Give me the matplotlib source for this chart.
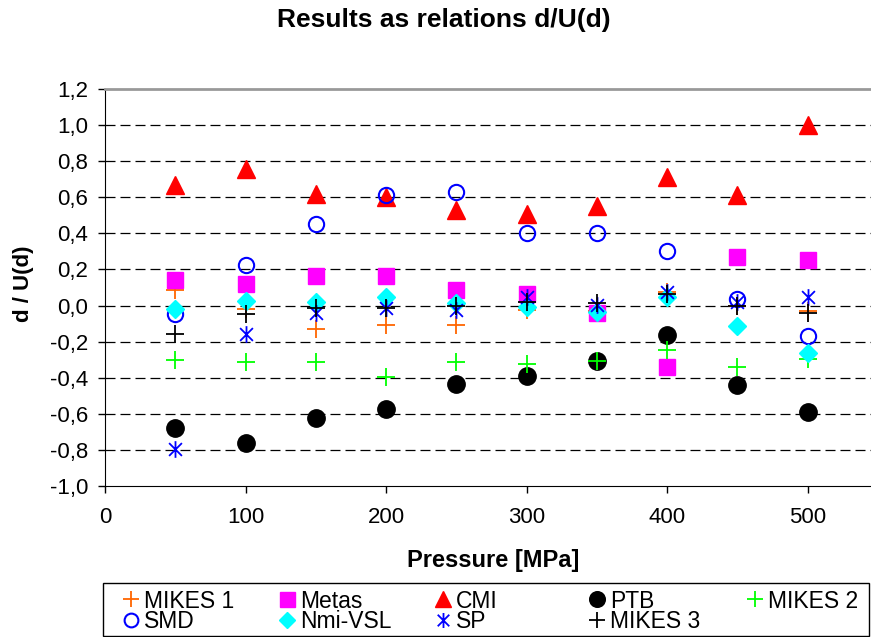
import numpy as np
import matplotlib
matplotlib.use("Agg")
from matplotlib import pyplot as plt
from matplotlib.path import Path
from matplotlib.patches import Rectangle
from matplotlib.ticker import FuncFormatter

plt.rcParams['font.family'] = ['Liberation Sans', 'DejaVu Sans']

pressure = [50, 100, 150, 200, 250, 300, 350, 400, 450, 500]

mikes1 = [0.085, -0.02, -0.13, -0.11, -0.11, -0.025, -0.03, 0.075, 0.0, -0.03]
metas = [0.14, 0.12, 0.165, 0.165, 0.085, 0.065, -0.04, -0.34, 0.27, 0.25]
cmi = [0.67, 0.755, 0.62, 0.60, 0.53, 0.51, 0.55, 0.71, 0.61, 1.00]
ptb = [-0.68, -0.76, -0.625, -0.575, -0.435, -0.39, -0.305, -0.165, -0.44, -0.59]
mikes2 = [-0.30, -0.315, -0.315, -0.395, -0.315, -0.325, -0.305, -0.245, -0.34, -0.295]
smd = [-0.045, 0.225, 0.45, 0.61, 0.63, 0.40, 0.40, 0.30, 0.035, -0.17]
nmi_vsl = [-0.02, 0.025, 0.02, 0.045, 0.015, -0.01, -0.035, 0.05, -0.115, -0.265]
sp = [-0.795, -0.16, -0.04, -0.015, -0.025, 0.05, 0.005, 0.075, 0.02, 0.045]
mikes3 = [-0.16, -0.045, -0.015, -0.015, -0.005, 0.02, 0.015, 0.065, -0.005, -0.04]

# excel style asterisk: an x plus a vertical bar
star = Path([(-1, -1), (1, 1), (-1, 1), (1, -1), (0, -1.3), (0, 1.3)],
            [Path.MOVETO, Path.LINETO, Path.MOVETO, Path.LINETO, Path.MOVETO, Path.LINETO])

fig = plt.figure(figsize=(8.71, 6.37), dpi=100)
ax = fig.add_axes([0.1206, 0.237, 0.8794, 0.6233])

h = {}
h['MIKES 1'], = ax.plot(pressure, mikes1, ls='none', marker='+', ms=13, mew=1.3, color='#ff6600')
h['Metas'], = ax.plot(pressure, metas, ls='none', marker='s', ms=12, color='#ff00ff')
h['CMI'], = ax.plot(pressure, cmi, ls='none', marker='^', ms=13, color='#ff0000')
h['PTB'], = ax.plot(pressure, ptb, ls='none', marker='o', ms=12.5, color='black')
h['MIKES 2'], = ax.plot(pressure, mikes2, ls='none', marker='+', ms=13, mew=1.3, color='#00ff00')
h['SMD'], = ax.plot(pressure, smd, ls='none', marker='o', ms=11, mfc='none', mec='#0000ff', mew=1.5)
h['Nmi-VSL'], = ax.plot(pressure, nmi_vsl, ls='none', marker='D', ms=9, color='#00ffff')
h['SP'], = ax.plot(pressure, sp, ls='none', marker=star, ms=12, mfc='none', mec='#0000ff', mew=1.3)
h['MIKES 3'], = ax.plot(pressure, mikes3, ls='none', marker='+', ms=13, mew=1.3, color='black')

ax.set_xlim(0, 545)
ax.set_ylim(-1.0, 1.2)
ax.set_xticks([0, 100, 200, 300, 400, 500])
ax.set_yticks(np.arange(-1.0, 1.21, 0.2))
ax.yaxis.set_major_formatter(FuncFormatter(lambda v, p: f"{v:.1f}".replace('.', ',').replace('-0,0', '0,0')))
ax.tick_params(labelsize=16, length=5, width=1, direction='out')
ax.tick_params(axis='y', pad=7)
ax.tick_params(axis='x', pad=10)
for y in np.arange(-0.8, 1.01, 0.2):
    ax.axhline(y, color='black', lw=0.9, ls=(0, (8, 4)), zorder=0)

ax.spines['right'].set_visible(False)
ax.spines['top'].set_color('#999999')
ax.spines['top'].set_linewidth(2)

fig.text(0.51, 0.968, 'Results as relations d/U(d)', ha='center', va='center', fontsize=19, fontweight='bold')
fig.text(0.566, 0.12, 'Pressure [MPa]', ha='center', va='center', fontsize=17, fontweight='bold')
fig.text(0.027, 0.555, 'd / U(d)', ha='center', va='center', rotation=90, fontsize=16, fontweight='bold')

# legend: one box, entries in equal-width columns like excel
fig.patches.append(Rectangle((103 / 871, 1 - 636 / 637), 766 / 871, 53 / 637,
                             transform=fig.transFigure, fill=False, ec='black', lw=1))
order = ['MIKES 1', 'Metas', 'CMI', 'PTB', 'MIKES 2', 'SMD', 'Nmi-VSL', 'SP', 'MIKES 3']
col_x = [122, 278, 434, 588, 746]
row_y = [601, 622]
for i, name in enumerate(order):
    x, y = col_x[i % 5], row_y[i // 5]
    fig.legend([h[name]], [name], loc='center left', bbox_to_anchor=(x / 871, 1 - y / 637),
               frameon=False, fontsize=16.5, handlelength=0.8, handletextpad=0.15, borderpad=0,
               borderaxespad=0, markerscale=0.9)

fig.savefig('out.png', dpi=100)
